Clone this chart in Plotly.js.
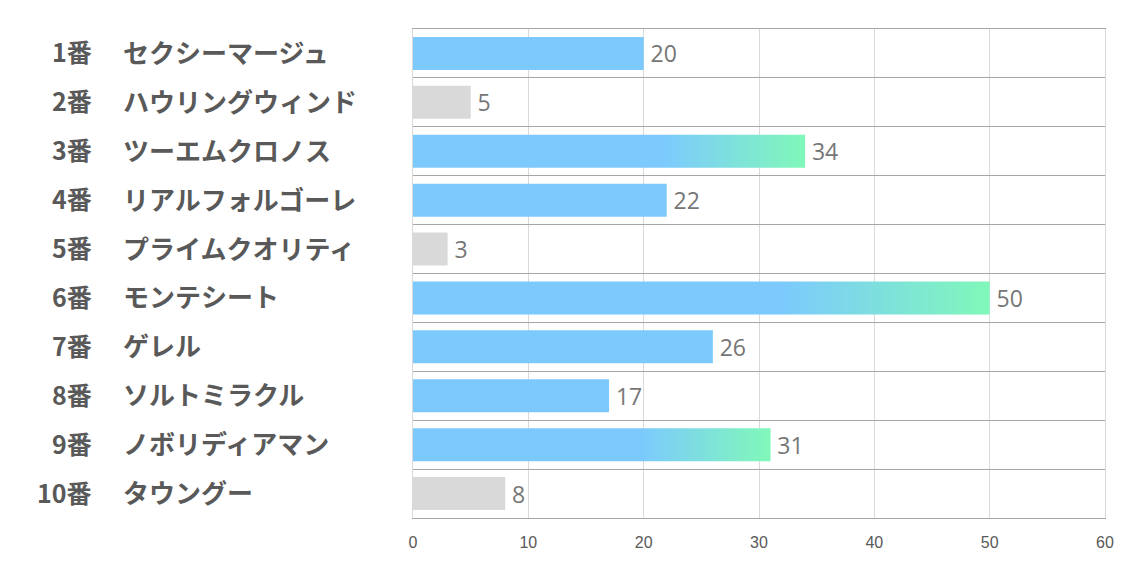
<!DOCTYPE html>
<html>
<head>
<meta charset="utf-8">
<script src="https://cdn.plot.ly/plotly-3.0.1.min.js"></script>
<style>
  html, body { margin: 0; padding: 0; background: #fff; }
  #chart { width: 1134px; height: 567px; }
</style>
</head>
<body>
<div id="chart"></div>
<script>
// ---- data ----
const horseNumbers = ["1番", "2番", "3番", "4番", "5番", "6番", "7番", "8番", "9番", "10番"];
const horseNames = ["セクシーマージュ", "ハウリングウィンド", "ツーエムクロノス", "リアルフォルゴーレ",
  "プライムクオリティ", "モンテシート", "ゲレル", "ソルトミラクル", "ノボリディアマン", "タウングー"];
const scores = [20, 5, 34, 22, 3, 50, 26, 17, 31, 8];
const xTicks = [0, 10, 20, 30, 40, 50, 60];

// ---- styling rules ----
const BLUE = "#7ccafd", GRAY = "#d9d9d9", GREEN = "#80f8b9";
const idx = scores.map((_, i) => i);
const barColors = scores.map(v => v < 10 ? GRAY : BLUE);
const isGradient = scores.map(v => v >= 30);

const W = 1134, ML = 413, MR = 29;
const plotW = W - ML - MR;
const px2paper = px => (px - ML) / plotW;

const trace = {
  type: "bar",
  orientation: "h",
  x: scores,
  y: idx,
  width: 0.675,
  marker: { color: barColors, line: { width: 0 } },
  text: scores.map(v => "\u2009" + v),
  textposition: "outside",
  cliponaxis: false,
  textfont: { family: "Open Sans, sans-serif", size: 23, color: "#767676" },
  hoverinfo: "none"
};

// invisible trace to drive the row-separator axis
const sepTrace = {
  type: "scatter", mode: "markers", x: [0], y: [0], yaxis: "y2",
  marker: { opacity: 0 }, hoverinfo: "none", showlegend: false
};

const annotations = [];
idx.forEach(i => {
  annotations.push({
    xref: "paper", yref: "y", x: px2paper(94), y: i, xanchor: "right", yanchor: "middle",
    yshift: 2,
    text: horseNumbers[i], showarrow: false,
    font: { family: "Noto Sans CJK JP", size: 25, color: "#595959", weight: "bold" }
  });
  annotations.push({
    xref: "paper", yref: "y", x: px2paper(121), y: i, xanchor: "left", yanchor: "middle",
    yshift: 2,
    text: horseNames[i], showarrow: false,
    font: { family: "Noto Sans CJK JP", size: 26, color: "#595959", weight: "bold" }
  });
});

const sepVals = [];
for (let k = 0; k <= horseNumbers.length; k++) sepVals.push(k - 0.5);

const layout = {
  width: 1134, height: 567,
  margin: { l: ML, r: MR, t: 29, b: 49, pad: 0 },
  paper_bgcolor: "#ffffff", plot_bgcolor: "#ffffff",
  showlegend: false,
  xaxis: {
    range: [0, 60], tickvals: xTicks, ticktext: xTicks.map(String),
    showgrid: true, gridcolor: "#d9d9d9", gridwidth: 1,
    zeroline: false, showline: true, mirror: true, linecolor: "#a6a6a6", linewidth: 1,
    ticks: "",
    ticklabelstandoff: 10,
    tickfont: { family: "Liberation Sans Narrow, Arial Narrow, sans-serif", size: 16, color: "#595959" },
    fixedrange: true
  },
  yaxis: {
    range: [horseNumbers.length - 0.5, -0.5],
    tickvals: idx, showticklabels: false, showgrid: false, zeroline: false, ticks: "",
    showline: true, mirror: true, linecolor: "#d9d9d9", linewidth: 1,
    fixedrange: true
  },
  yaxis2: {
    overlaying: "y", range: [horseNumbers.length - 0.5, -0.5],
    tickvals: sepVals, showticklabels: false, showgrid: true,
    gridcolor: "#a6a6a6", gridwidth: 1, zeroline: false, ticks: "", fixedrange: true
  },
  annotations: annotations
};

Plotly.newPlot("chart", [sepTrace, trace], layout, { displayModeBar: false, staticPlot: true }).then(gd => {
  const svg = gd.querySelector(".main-svg");
  const ns = "http://www.w3.org/2000/svg";
  let defs = svg.querySelector("defs");
  if (!defs) { defs = document.createElementNS(ns, "defs"); svg.insertBefore(defs, svg.firstChild); }
  const grad = document.createElementNS(ns, "linearGradient");
  grad.setAttribute("id", "barGrad");
  grad.setAttribute("x1", "0"); grad.setAttribute("x2", "1");
  grad.setAttribute("y1", "0"); grad.setAttribute("y2", "0");
  [[0, BLUE], [0.64, BLUE], [1, GREEN]].forEach(([o, c]) => {
    const s = document.createElementNS(ns, "stop");
    s.setAttribute("offset", o); s.setAttribute("stop-color", c);
    grad.appendChild(s);
  });
  defs.appendChild(grad);
  const paths = gd.querySelectorAll(".barlayer .trace.bars .point path");
  paths.forEach((p, i) => { if (isGradient[i]) p.style.fill = "url(#barGrad)"; });
});
</script>
</body>
</html>
